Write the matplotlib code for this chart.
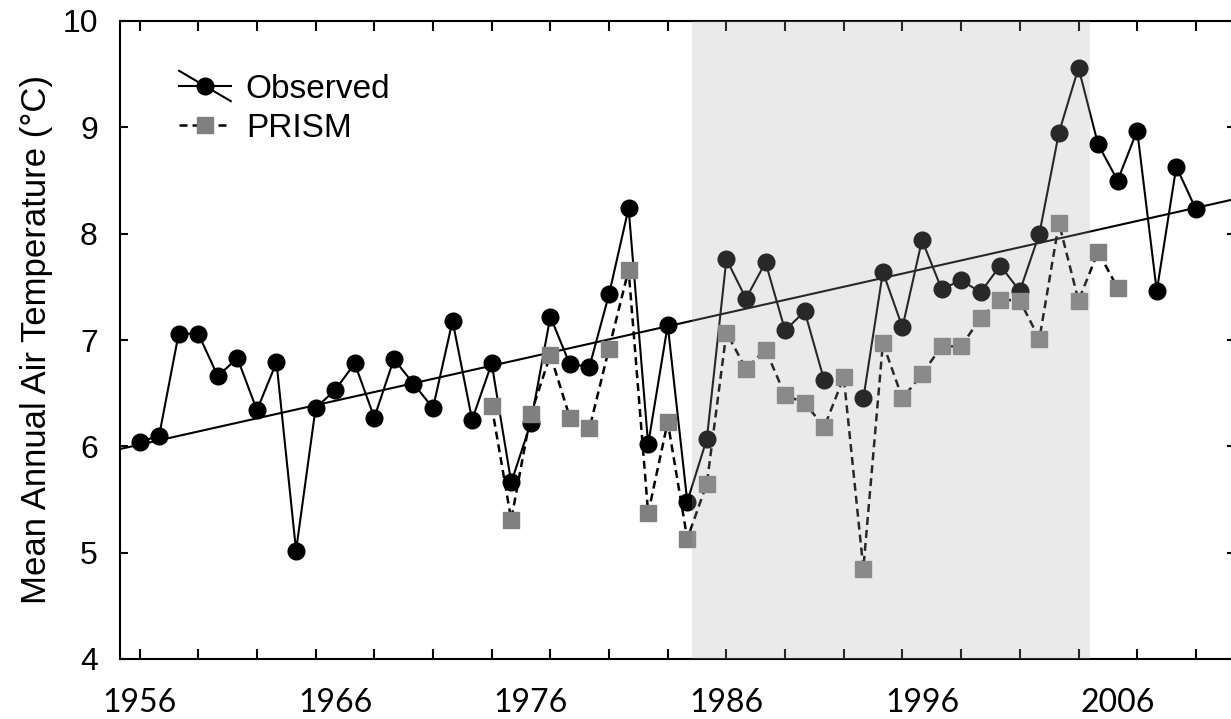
import numpy as np
import matplotlib
matplotlib.use("Agg")
import matplotlib.pyplot as plt
from matplotlib.lines import Line2D
from matplotlib.legend_handler import HandlerLine2D

# Mean annual air temperature, station record vs PRISM grid
obs_years = np.arange(1956, 2011)
obs_temp = [
    6.04, 6.10, 7.06, 7.06, 6.66, 6.83, 6.34, 6.79, 5.02, 6.36,
    6.53, 6.78, 6.27, 6.82, 6.59, 6.36, 7.18, 6.25, 6.78, 5.66,
    6.22, 7.22, 6.77, 6.75, 7.43, 8.24, 6.02, 7.14, 5.48, 6.07,
    7.76, 7.39, 7.73, 7.09, 7.27, 6.62, np.nan, 6.45, 7.64, 7.12,
    7.94, 7.48, 7.56, 7.45, 7.70, 7.46, 8.00, 8.95, 9.56, 8.84,
    8.50, 8.97, 7.46, 8.63, 8.23,
]
prism_years = np.arange(1974, 2007)
prism_temp = [
    6.38, 5.31, 6.30, 6.86, 6.27, 6.17, 6.92, 7.66, 5.37, 6.23,
    5.13, 5.65, 7.07, 6.73, 6.91, 6.48, 6.41, 6.18, 6.65, 4.85,
    6.97, 6.45, 6.68, 6.94, 6.94, 7.21, 7.38, 7.37, 7.01, 8.10,
    7.37, 7.83, 7.49,
]
shade_span = (1984.25, 2004.6)
label_years = [1956, 1966, 1976, 1986, 1996, 2006]
tick_years = np.arange(1956, 2012, 3)
y_ticks = [4, 5, 6, 7, 8, 9, 10]


class HandlerObservedTrend(HandlerLine2D):
    """Legend handle: marker line crossed by a diagonal trend stroke."""

    def create_artists(self, legend, orig_handle, xdescent, ydescent,
                       width, height, fontsize, trans):
        artists = super().create_artists(legend, orig_handle, xdescent, ydescent,
                                         width, height, fontsize, trans)
        yc = height / 2 - ydescent
        dy = 0.65 * height
        diag = Line2D([-xdescent, width - xdescent], [yc + dy, yc - dy],
                      color="black", lw=1.5, transform=trans)
        return [diag] + list(artists)


fig = plt.figure(figsize=(12.31, 7.19), dpi=100)
ax = fig.add_axes([120 / 1231, 60 / 719, 1115 / 1231, 638 / 719])

obs = np.array(obs_temp)
ok = ~np.isnan(obs)
slope, icpt = np.polyfit(obs_years[ok], obs[ok], 1)
xt = np.array([1955, 2012])
ax.plot(xt, slope * xt + icpt, color="black", lw=1.5, zorder=2)

h_obs, = ax.plot(obs_years, obs_temp, color="black", lw=1.5, marker="o",
                 markersize=12, markerfacecolor="black", markeredgecolor="black",
                 zorder=3, label="Observed")
h_prism, = ax.plot(prism_years, prism_temp, color="black", lw=1.8,
                   dashes=(3.2, 2.0), marker="s", markersize=12,
                   markerfacecolor="#808080", markeredgecolor="#808080",
                   zorder=4, label="PRISM")

ax.axvspan(*shade_span, color="#ababab", alpha=0.24, lw=0, zorder=5)

ax.set_xlim(1955, 2012)
ax.set_ylim(4, 10)

# tick marks every 3 years, labels every 10 years
ax.xaxis.remove_overlapping_locs = False
ax.set_xticks(tick_years)
ax.set_xticklabels([])
ax.set_xticks(label_years, minor=True)
ax.set_xticklabels([str(y) for y in label_years], minor=True,
                   fontfamily="Lato", fontsize=23)
ax.tick_params(axis="x", which="major", direction="in", length=7, width=1.5,
               top=True, bottom=True)
ax.tick_params(axis="x", which="minor", length=0, pad=21)

ax.set_yticks(y_ticks)
ax.set_yticklabels([str(v) for v in y_ticks], fontfamily="Liberation Sans",
                   fontsize=23)
ax.tick_params(axis="y", direction="in", length=6, width=1.5,
               left=True, right=True, pad=16)

for sp in ax.spines.values():
    sp.set_linewidth(1.5)

ax.set_ylabel("Mean Annual Air Temperature (°C)", fontfamily="Liberation Sans",
              fontsize=25, labelpad=7)

ax.legend([h_obs, h_prism], ["Observed", "PRISM"],
          handler_map={h_obs: HandlerObservedTrend()},
          loc="upper left", bbox_to_anchor=(0.053, 0.9175), frameon=False,
          prop={"family": "Liberation Sans", "size": 24},
          handlelength=1.55, handletextpad=0.45, labelspacing=0.25,
          borderpad=0, borderaxespad=0)

fig.savefig("out.png", dpi=100)
